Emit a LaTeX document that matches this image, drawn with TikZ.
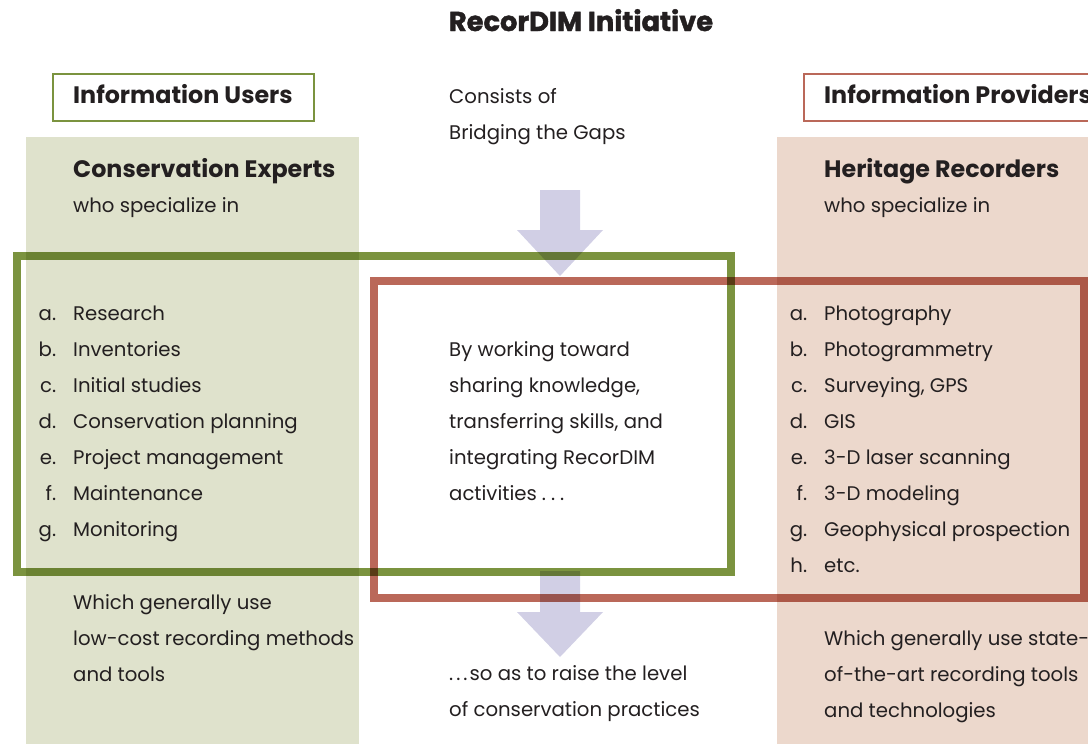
\documentclass[tikz,border=0pt]{standalone}
\usepackage{fontspec}
\setmainfont{Poppins}
\newfontfamily\heavyfont[BoldFeatures={FakeBold=1.5}]{Poppins}
\definecolor{ink}{RGB}{35,31,32}
\definecolor{frgreen}{RGB}{123,147,63}
\definecolor{frred}{RGB}{186,104,89}
\definecolor{pgreen}{RGB}{223,226,204}
\definecolor{ppink}{RGB}{236,216,204}
\definecolor{lav}{RGB}{209,207,229}
\tikzset{
  body/.style={anchor=base west, inner sep=0pt, text=ink, font=\fontsize{19.7}{36}\selectfont},
  headtxt/.style={anchor=base west, inner sep=0pt, text=ink, font=\fontsize{23.8}{36}\selectfont\bfseries},
  titlebox/.style={anchor=north west, line width=1.8pt, fill=white, minimum height=47pt, inner xsep=0pt},
  frame/.style={line width=8pt, blend mode=multiply},
  blockarrow/.style={fill=lav, draw=none, blend mode=multiply},
}
\newcommand{\lab}[1]{\llap{#1\hspace{17pt}}}
\begin{document}
\begin{tikzpicture}[x=1pt,y=-1pt]
\useasboundingbox (0,0) rectangle (1088,744);
% panels
\fill[pgreen] (26,137) rectangle (359,744);
\fill[ppink] (777,137) rectangle (1088,744);
% title
\node[anchor=base, inner sep=0pt, text=ink, font=\fontsize{27.3}{30}\selectfont\heavyfont\bfseries] (title) at (581,31) {RecorDIM Initiative};
% header boxes
\node[titlebox, draw=frgreen, minimum width=261pt] (usersbox) at (52,73) {};
\node[headtxt] (users) at (73,103) {Information Users};
\node[titlebox, draw=frred, minimum width=300pt] (provbox) at (803,73) {};
\node[headtxt] (prov) at (824,103) {Information Providers};
% middle top text
\node[body] (consists) at (449,103) {\begin{tabular}[t]{@{}l@{}}Consists of\\Bridging the Gaps\end{tabular}};
% column heads
\node[headtxt] (experts) at (73,177) {Conservation Experts};
\node[body] (expspec) at (73,212) {who specialize in};
\node[headtxt] (recorders) at (824,177) {Heritage Recorders};
\node[body] (recspec) at (824,212) {who specialize in};
% arrows
\fill[blockarrow] (540,190) -- (580,190) -- (580,230) -- (603,230) -- (560,276) -- (517,230) -- (540,230) -- cycle;
\fill[blockarrow] (540,571) -- (580,571) -- (580,612) -- (603,612) -- (560,657) -- (517,612) -- (540,612) -- cycle;
% frames
\draw[frame, frgreen] (17,255.5) rectangle (731,572);
\draw[frame, frred] (374,281) rectangle (1084,598);
% lists
\node[body] (leftlist) at (73,320) {\begin{tabular}[t]{@{}l@{}}
\lab{a.}Research\\
\lab{b.}Inventories\\
\lab{c.}Initial studies\\
\lab{d.}Conservation planning\\
\lab{e.}Project management\\
\lab{f.}Maintenance\\
\lab{g.}Monitoring\end{tabular}};
\node[body] (rightlist) at (824,320) {\begin{tabular}[t]{@{}l@{}}
\lab{a.}Photography\\
\lab{b.}Photogrammetry\\
\lab{c.}Surveying, GPS\\
\lab{d.}GIS\\
\lab{e.}3-D laser scanning\\
\lab{f.}3-D modeling\\
\lab{g.}Geophysical prospection\\
\lab{h.}etc.\end{tabular}};
\node[body] (midtext) at (449,356) {\begin{tabular}[t]{@{}l@{}}
By working toward\\
sharing knowledge,\\
transferring skills, and\\
integrating RecorDIM\\
activities\hspace{5pt}.\hspace{5pt}.\hspace{5pt}.\end{tabular}};
% bottom texts
\node[body] (leftbottom) at (73,609) {\begin{tabular}[t]{@{}l@{}}
Which generally use\\
low-cost recording methods\\
and tools\end{tabular}};
\node[body] (midbottom) at (449,680) {\begin{tabular}[t]{@{}l@{}}
.\hspace{3pt}.\hspace{3pt}.\hspace{2pt}so as to raise the level\\
of conservation practices\end{tabular}};
\node[body] (rightbottom) at (824,645) {\begin{tabular}[t]{@{}l@{}}
Which generally use state-\\
of-the-art recording tools\\
and technologies\end{tabular}};
\end{tikzpicture}
\end{document}
